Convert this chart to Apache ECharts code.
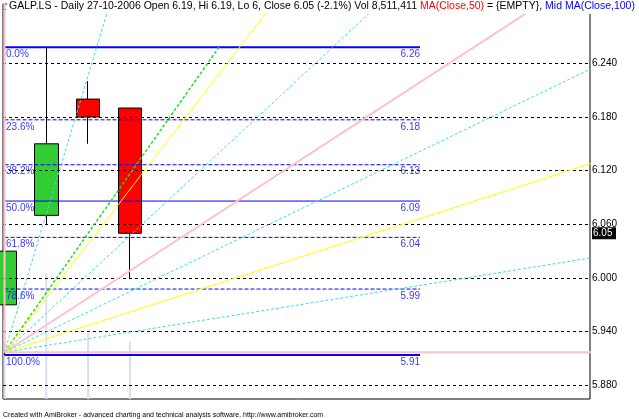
<!DOCTYPE html>
<html><head><meta charset="utf-8">
<script src="https://cdn.jsdelivr.net/npm/echarts@6/dist/echarts.min.js"></script>
<style>html,body{margin:0;padding:0;background:#fff}#c{width:639px;height:419px}</style>
</head><body><div id="c"></div>
<script>
// ---- data ----
const barIndex = [0, 1, 2, 3];
const opens   = [5.97, 6.07, 6.20, 6.19];
const closes  = [6.03, 6.15, 6.18, 6.05];
const lows    = [5.914, 6.06, 6.15, 6.00];
const highs   = [6.03, 6.258, 6.22, 6.19];
const volumes = [12000000, 18800000, 9900000, 8511411];

const axisTicks = [5.88, 5.94, 6.00, 6.06, 6.12, 6.18, 6.24, 6.30];

const fibHigh = 6.258, fibLow = 5.914;
const fibRatios = [0, 0.236, 0.382, 0.5, 0.618, 0.786, 1];
const fibPctLabels = ['0.0%', '23.6%', '38.2%', '50.0%', '61.8%', '78.6%', '100.0%'];
const fibPriceLabels = ['6.26', '6.18', '6.13', '6.09', '6.04', '5.99', '5.91'];
const fibSpan = [0, 9.94];

const fanOrigin = [0, 5.917];
const fanNames = ['vert', 'steep1', 'trend', 'steep2', 'mid1', 'oneByOne', 'mid2', 'twoByOne', 'mid3', 'horiz'];
const fanEnds = [[0, 6.33], [2.67, 6.33], [5.13, 6.258], [6.81, 6.33], [9.51, 6.33], [13.6, 6.33],
                 [14.5, 6.2445], [14.5, 6.135], [14.5, 6.026], [14.5, 5.917]];

const titleText = 'GALP.LS - Daily 27-10-2006 Open 6.19, Hi 6.19, Lo 6, Close 6.05 (-2.1%) Vol 8,511,411 {r|MA(Close,50)} = {EMPTY}, {b|Mid MA(Close,100)}';
const footerText = 'Created with AmiBroker - advanced charting and technical analysis software. http://www.amibroker.com';

// ---- styles ----
const FONT = 'Liberation Sans, Arial, sans-serif';
const PINK = '#ffc0cb', YEL = '#ffff00', CYAN = '#40e0d0', GRN = '#22dd22', BLUE = '#0000ff';
const fanStyle = {
  vert: {color: PINK, width: 2, type: 'solid'},
  steep1: {color: CYAN, width: 1, type: [3, 2]},
  trend: {color: GRN, width: 1.5, type: [3, 2]},
  steep2: {color: YEL, width: 1, type: 'solid'},
  mid1: {color: CYAN, width: 1, type: [3, 2]},
  oneByOne: {color: PINK, width: 2, type: 'solid'},
  mid2: {color: CYAN, width: 1, type: [3, 2]},
  twoByOne: {color: YEL, width: 1, type: 'solid'},
  mid3: {color: CYAN, width: 1, type: [3, 2]},
  horiz: {color: PINK, width: 2, type: 'solid'}
};
const fibStyle = [
  {width: 2, type: 'solid'}, {width: 1, type: [4, 2]}, {width: 1, type: [4, 2]},
  {width: 1, type: 'solid'}, {width: 1, type: [4, 2]}, {width: 1, type: [4, 2]}, {width: 2, type: 'solid'}
];

const xMin = -0.036, xMax = 14.007;
const yMin = 5.8647, yMax = 6.3063;

const fibLevels = fibRatios.map(r => fibHigh - r * (fibHigh - fibLow));

const series = [];
// volume overlay
series.push({
  type: 'bar', xAxisIndex: 0, yAxisIndex: 1, silent: true, z: 1, barWidth: 2,
  itemStyle: {color: '#dcdcf2'},
  data: barIndex.map((x, i) => [x, volumes[i]])
});
// dashed grid lines
series.push({
  type: 'line', data: [], z: 2, silent: true,
  markLine: {
    silent: true, symbol: 'none', label: {show: false}, animation: false,
    lineStyle: {color: '#000', width: 1, type: [3, 3]},
    data: axisTicks.map(v => ({yAxis: v}))
  }
});
// candles
series.push({
  type: 'candlestick', z: 3, clip: false, barWidth: 24,
  encode: {x: 0, y: [1, 2, 3, 4]},
  itemStyle: {color: '#32cd32', color0: '#ff0000', borderColor: '#000', borderColor0: '#000', borderWidth: 1},
  data: barIndex.map((x, i) => [x, opens[i], closes[i], lows[i], highs[i]])
});
// fib lines
fibLevels.forEach((p, i) => {
  series.push({
    type: 'line', z: 4, silent: true, showSymbol: false, symbol: 'none',
    lineStyle: Object.assign({color: BLUE}, fibStyle[i]),
    data: [[fibSpan[0], p], [fibSpan[1], p]]
  });
});
// fan lines
fanNames.forEach((n, i) => {
  series.push({
    type: 'line', z: 5, silent: true, showSymbol: false, symbol: 'none', clip: true,
    lineStyle: fanStyle[n],
    data: [fanOrigin, fanEnds[i]]
  });
});
// fib labels
series.push({
  type: 'scatter', z: 6, symbolSize: 0, silent: true,
  label: {show: true, position: [1.5, 2], align: 'left', verticalAlign: 'top', color: BLUE, fontSize: 10, fontFamily: FONT,
    formatter: p => fibPctLabels[p.dataIndex]},
  data: fibLevels.map(p => [fibSpan[0], p])
});
series.push({
  type: 'scatter', z: 6, symbolSize: 0, silent: true,
  label: {show: true, position: [0, 2], align: 'right', verticalAlign: 'top', color: BLUE, fontSize: 10, fontFamily: FONT,
    formatter: p => fibPriceLabels[p.dataIndex]},
  data: fibLevels.map(p => [fibSpan[1], p])
});

const chart = echarts.init(document.getElementById('c'), null, {renderer: 'canvas'});
chart.setOption({
  animation: false,
  backgroundColor: '#fff',
  title: {
    text: titleText, left: 7, top: 0, z: 20, padding: [1, 2, 2, 2], backgroundColor: '#fff',
    textStyle: {fontSize: 10.5, fontWeight: 'normal', color: '#000', fontFamily: FONT,
      rich: {r: {color: '#ff0000', fontSize: 10.5, fontFamily: FONT}, b: {color: BLUE, fontSize: 10.5, fontFamily: FONT}}}
  },
  grid: {left: 3, right: 49, top: 4, bottom: 20, show: true, borderColor: '#000', borderWidth: 1, backgroundColor: '#fff'},
  xAxis: {type: 'value', min: xMin, max: xMax, show: false},
  yAxis: [{
    type: 'value', position: 'right', min: yMin, max: yMax, scale: true,
    axisLine: {show: true, lineStyle: {color: '#000', width: 1}},
    axisTick: {show: false}, splitLine: {show: false},
    axisLabel: {customValues: axisTicks, formatter: v => v.toFixed(3), fontSize: 10, color: '#000', margin: 2, fontFamily: FONT,
      showMinLabel: true, showMaxLabel: true}
  }, {
    type: 'value', min: 0, max: 59000000, show: false
  }],
  series: series
});

const lastClose = closes[closes.length - 1];
const ty = chart.convertToPixel({yAxisIndex: 0}, lastClose);
const tx = chart.convertToPixel({xAxisIndex: 0}, xMax) + 2;
chart.setOption({
  graphic: [
    {type: 'group', x: tx, y: ty, z: 30, children: [
      {type: 'rect', shape: {x: 0, y: -6, width: 24, height: 12}, style: {fill: '#000'}},
      {type: 'text', x: 1, y: 0, style: {text: lastClose.toFixed(2), fill: '#fff', fontSize: 10, fontFamily: FONT, verticalAlign: 'middle'}}
    ]},
    {type: 'text', left: 3, top: 412, z: 30, style: {text: footerText, fill: '#000', fontSize: 7, fontFamily: FONT}}
  ]
});
</script>
</body></html>
